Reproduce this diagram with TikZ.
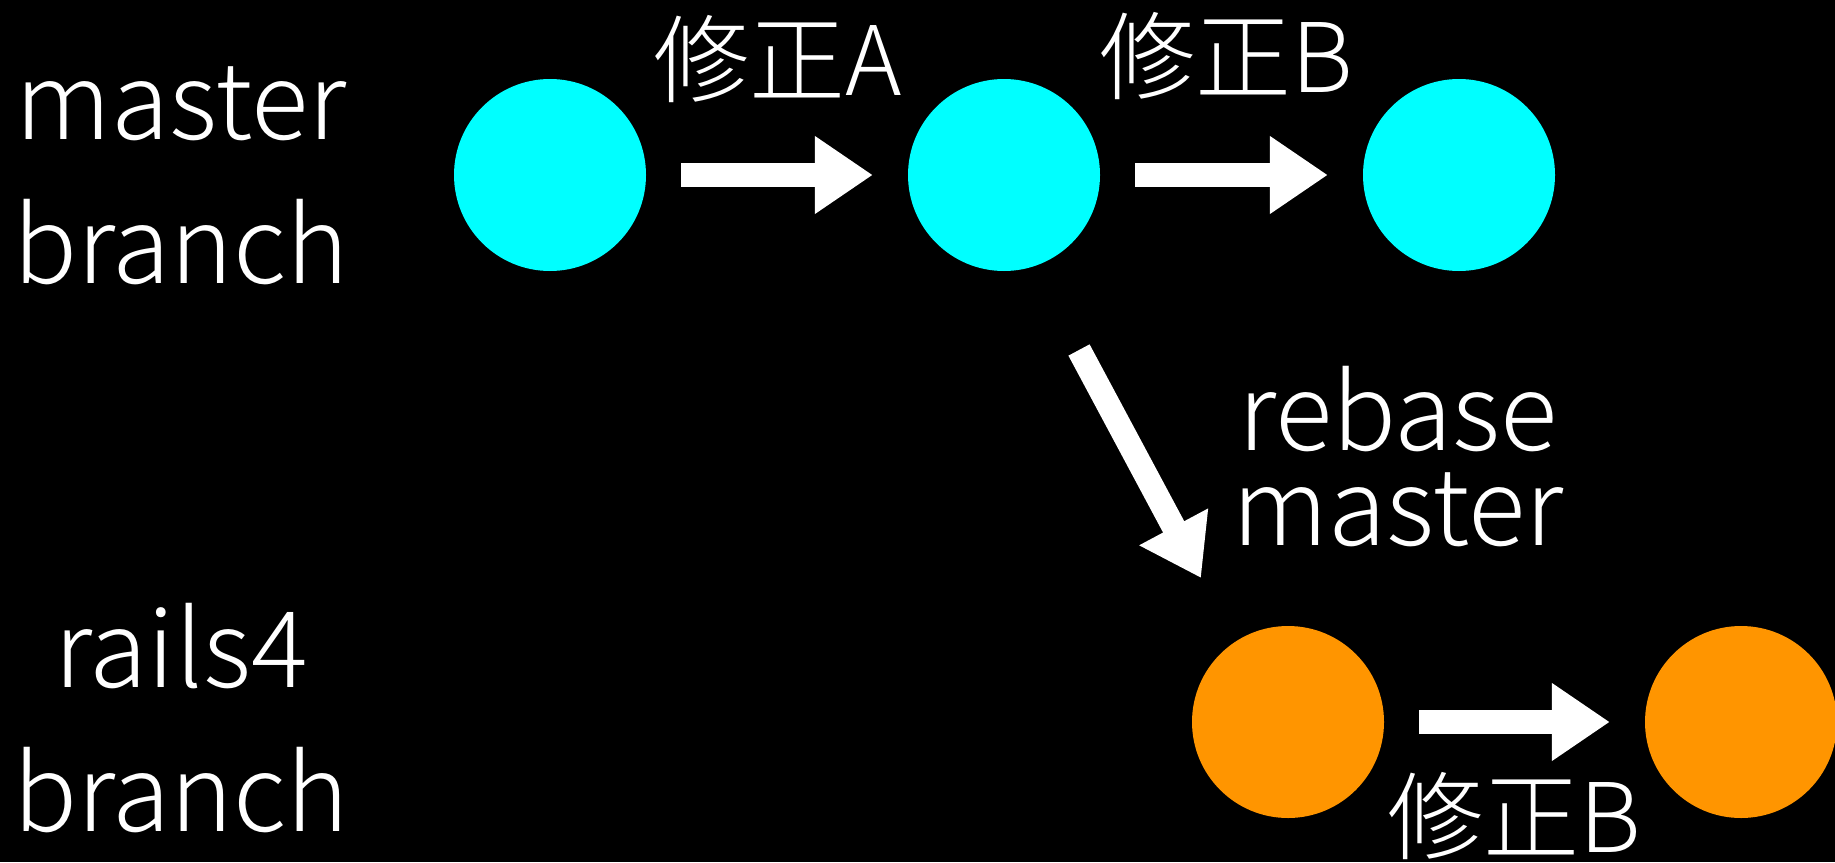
\documentclass[tikz,border=0pt]{standalone}
\usepackage{fontspec}
\setmainfont{Noto Sans CJK JP}[UprightFont={* Light}]
\usetikzlibrary{arrows.meta, positioning}
\definecolor{gcyan}{HTML}{00FFFF}
\definecolor{gorange}{HTML}{FF9500}

\begin{document}
\begin{tikzpicture}[x=1pt, y=-1pt,
  commit/.style={circle, minimum size=192pt, inner sep=0pt},
  lbl/.style={font=\fontsize{106}{144}\selectfont, text=white, inner sep=0pt, align=center},
  fixlbl/.style={lbl, font=\fontsize{96}{96}\selectfont},
  bigarrow/.style={white, line width=24pt, -{Triangle[length=58pt, width=74pt]},
    shorten <=35pt, shorten >=35pt}]
\fill[black] (0,0) rectangle (1835,862);
\useasboundingbox (0,0) rectangle (1835,862);
% branch names (base = last line)
\node[lbl, anchor=base] (mastername) at (181,283) {master\\branch};
\node[lbl, anchor=base] (railsname) at (181,831) {rails4\\branch};
% master commits
\node[commit, fill=gcyan] (m1) at (550,175) {};
\node[commit, fill=gcyan] (m2) at (1004,175) {};
\node[commit, fill=gcyan] (m3) at (1459,175) {};
\draw[bigarrow] (m1) -- (m2);
\draw[bigarrow] (m2) -- (m3);
\node[fixlbl, anchor=base] (fixa) at (778,95) {修正A};
\node[fixlbl, anchor=base] (fixb) at (1226,92) {修正B};
% rebase
\coordinate (rbtail) at (1079,350);
\coordinate (rbtip) at (1201,578);
\draw[bigarrow, shorten <=0pt, shorten >=0pt] (rbtail) -- (rbtip);
\node[lbl, font=\fontsize{106}{95}\selectfont, anchor=base] (rebase) at (1398,545) {rebase\\master};
% rails4 commits
\node[commit, fill=gorange] (r1) at (1288,722) {};
\node[commit, fill=gorange] (r2) at (1741,722) {};
\draw[bigarrow] (r1) -- (r2);
\node[fixlbl, anchor=base] (fixb2) at (1514,852) {修正B};
\end{tikzpicture}
\end{document}
